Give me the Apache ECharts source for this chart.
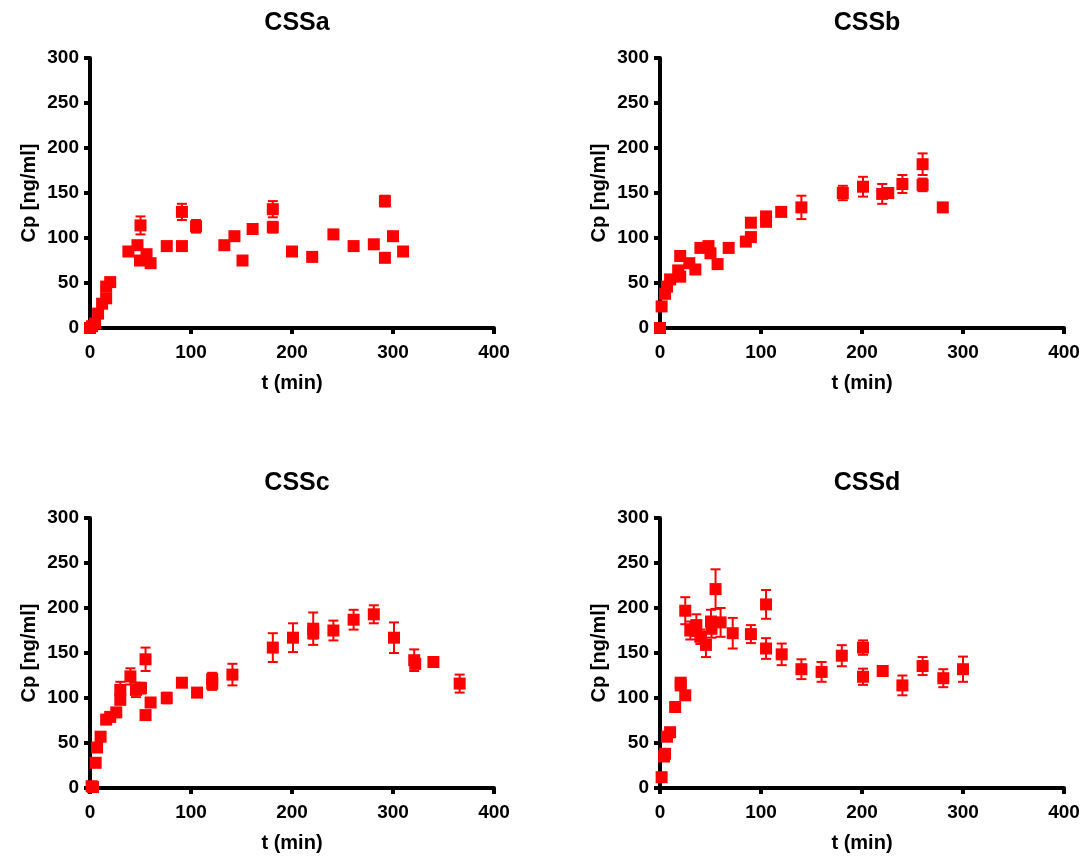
<!DOCTYPE html>
<html>
<head>
<meta charset="utf-8">
<script src="https://cdn.jsdelivr.net/npm/echarts@6/dist/echarts.min.js"></script>
<style>html,body{margin:0;padding:0;background:#fff;}#c{width:1087px;height:856px;}</style>
</head>
<body>
<div id="c"></div>
<script>
// ---- data ----
const titles = ['CSSa', 'CSSb', 'CSSc', 'CSSd'];
const xTicks = [0, 100, 200, 300, 400];
const yTicks = [0, 50, 100, 150, 200, 250, 300];

const tA = [0, 2, 5, 8, 12, 16, 16, 20, 38, 47, 50, 49.5, 56, 60, 76, 91, 91, 105, 133, 143, 151, 161, 181, 181, 200, 220, 241, 261, 281, 292, 292, 300, 310];
const cpA = [0, 2, 5, 16, 27, 33, 46, 51, 85, 92, 114, 75, 82, 72, 91, 91, 129, 113, 92, 102, 75, 110, 132, 112, 85, 79, 104, 91, 93, 78, 141, 102, 85];
const errA = [0, 0, 0, 0, 0, 0, 0, 0, 3, 3, 10, 0, 4, 0, 0, 0, 9, 7, 0, 0, 0, 3, 9, 6, 3, 0, 0, 0, 0, 0, 6, 0, 0];

const tB = [0, 1.6, 5, 7, 10, 18, 20, 20, 29, 35, 40, 48, 50, 57, 68, 85, 90, 90, 105, 105, 120, 140, 181, 201, 220, 226, 240, 260, 260, 280];
const cpB = [0, 24, 38, 46, 54, 64, 57, 80, 72, 65, 89, 91, 83, 71, 89, 96, 101, 117, 118, 124, 129, 134, 150, 157, 149, 150, 160, 182, 159, 134];
const errB = [0, 0, 0, 0, 0, 3, 0, 3, 3, 3, 3, 3, 4, 0, 0, 3, 3, 4, 4, 4, 3, 13, 8, 11, 11, 5, 10, 12, 7, 4];

const tC = [1.6, 3, 5.6, 7, 10.5, 16, 20, 26, 30, 30, 40, 45.5, 50.5, 55, 55, 60, 76, 91, 106, 121, 121, 141, 181, 201, 221, 221, 241, 261, 281, 301, 321, 322, 340, 366];
const cpC = [2, 1, 28, 45, 57, 76, 79, 84, 98, 109, 124, 109, 111, 143, 81, 95, 100, 117, 106, 116, 121, 126, 156, 167, 177, 172, 175, 187, 193, 167, 142, 138, 140, 116];
const errC = [0, 0, 0, 0, 3, 3, 3, 3, 5, 9, 9, 8, 6, 13, 4, 3, 6, 4, 3, 7, 7, 12, 16, 16, 18, 6, 11, 11, 10, 17, 12, 5, 0, 10];

const tD = [1.6, 4, 5, 7, 10, 15, 20.5, 20.5, 25, 25, 30, 36, 40, 45.5, 50.5, 51, 55, 60, 72, 90, 105, 105, 120.5, 140, 160, 180, 201, 201, 220.5, 240, 260, 280.5, 300];
const cpD = [12, 35, 38, 57, 62, 90, 117, 114, 103, 197, 175, 181, 168, 159, 185, 177, 221, 184, 172, 171, 204, 155, 148.5, 132, 129, 147, 156, 123.6, 130, 114, 135.5, 122, 132];
const errD = [3, 4, 4, 4, 4, 3, 3, 3, 3, 15, 10, 12, 8, 13.5, 13, 10, 22, 16, 17, 10, 16, 11.5, 12, 11, 11, 11.7, 8, 9, 3, 11, 10, 10, 14];

const panels = [[tA, cpA, errA], [tB, cpB, errB], [tC, cpC, errC], [tD, cpD, errD]];

// ---- layout ----
const gridPos = [
  {left: 90, top: 58, width: 404, height: 270},
  {left: 660, top: 58, width: 404, height: 270},
  {left: 90, top: 518, width: 404, height: 270},
  {left: 660, top: 518, width: 404, height: 270}
];
const RED = '#ff0000';
const FONT = 'Liberation Sans, Arial, sans-serif';

const chart = echarts.init(document.getElementById('c'), null, {renderer: 'canvas'});

const grid = [], xAxis = [], yAxis = [], series = [], title = [];
gridPos.forEach((g, i) => {
  grid.push(Object.assign({containLabel: false}, g));
  title.push({
    text: titles[i], left: g.left + g.width / 2, top: g.top - 52, textAlign: 'center',
    textStyle: {fontFamily: FONT, fontWeight: 'bold', fontSize: 25, color: '#000'}
  });
  const axisCommon = {
    axisLine: {show: true, onZero: false, lineStyle: {color: '#000', width: 4}},
    axisTick: {show: true, inside: false, length: 6, lineStyle: {color: '#000', width: 4}},
    splitLine: {show: false},
    nameLocation: 'middle',
    nameTextStyle: {fontFamily: FONT, fontWeight: 'bold', fontSize: 20, color: '#000'}
  };
  xAxis.push(Object.assign({}, axisCommon, {
    gridIndex: i, type: 'value', min: xTicks[0], max: xTicks[xTicks.length - 1], interval: xTicks[1] - xTicks[0],
    name: 't (min)', nameGap: 45,
    axisLabel: {fontFamily: FONT, fontWeight: 'bold', fontSize: 19, color: '#000', margin: 15}
  }));
  yAxis.push(Object.assign({}, axisCommon, {
    gridIndex: i, type: 'value', min: yTicks[0], max: yTicks[yTicks.length - 1], interval: yTicks[1] - yTicks[0],
    name: 'Cp [ng/ml]', nameGap: 51,
    axisLabel: {fontFamily: FONT, fontWeight: 'bold', fontSize: 19, color: '#000', margin: 11}
  }));
  const [t, cp, err] = panels[i];
  const data = t.map((v, k) => [v, cp[k], err[k]]);
  series.push({
    type: 'custom', xAxisIndex: i, yAxisIndex: i, z: 2, clip: false,
    data: data,
    renderItem: function (params, api) {
      const x = api.value(0), y = api.value(1), e = api.value(2);
      if (!e) return null;
      const hi = api.coord([x, y + e]);
      const lo = api.coord([x, y - e]);
      const hw = 5;
      const st = {stroke: RED, lineWidth: 2};
      return {
        type: 'group',
        children: [
          {type: 'line', shape: {x1: hi[0], y1: hi[1], x2: lo[0], y2: lo[1]}, style: st},
          {type: 'line', shape: {x1: hi[0] - hw, y1: hi[1], x2: hi[0] + hw, y2: hi[1]}, style: st},
          {type: 'line', shape: {x1: lo[0] - hw, y1: lo[1], x2: lo[0] + hw, y2: lo[1]}, style: st}
        ]
      };
    }
  });
  series.push({
    type: 'scatter', xAxisIndex: i, yAxisIndex: i, z: 3, clip: false,
    symbol: 'rect', symbolSize: 12,
    itemStyle: {color: RED, opacity: 1},
    data: data.map(d => [d[0], d[1]])
  });
});

chart.setOption({
  animation: false,
  backgroundColor: '#fff',
  title: title,
  grid: grid,
  xAxis: xAxis,
  yAxis: yAxis,
  series: series
});
</script>
</body>
</html>
